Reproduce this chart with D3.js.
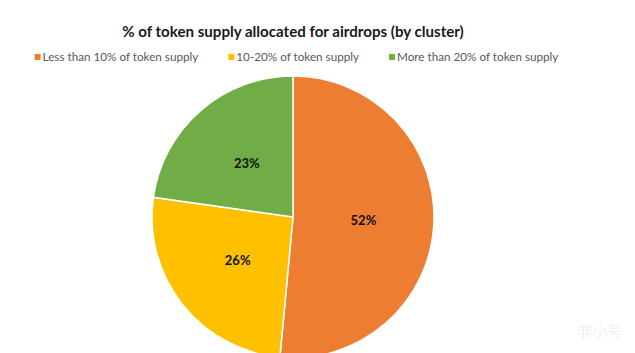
<!DOCTYPE html>
<html>
<head>
<meta charset="utf-8">
<script src="https://cdn.jsdelivr.net/npm/d3@7"></script>
<style>
  body { margin: 0; background: #fff; }
</style>
</head>
<body>
<div id="chart"></div>
<script>
// data
const categories = ["Less than 10% of token supply", "10-20% of token supply", "More than 20% of token supply"]
const shares = [52, 26, 23]
const sliceLabels = ["52%", "26%", "23%"]
const colors = ["#ED7D31", "#FFC000", "#70AD47"]
const title = "% of token supply allocated for airdrops (by cluster)"

function c1() {
    const width = 635
    const height = 353
    const cx = 293, cy = 217, radius = 141

    let svg = d3.select("#chart")
        .append("svg")
        .attr("width", width)
        .attr("height", height)

    svg.append("rect")
        .attr("width", "100%")
        .attr("height", "100%")
        .attr("fill", "#fff")

    //title
    svg.append("text")
        .attr("x", cx)
        .attr("y", 36.5)
        .attr("text-anchor", "middle")
        .attr("font-family", "Lato, sans-serif")
        .attr("font-weight", 700)
        .attr("font-size", "15.1px")
        .attr("fill", "#1a1a1a")
        .text(title)

    let colorScale = d3.scaleOrdinal().domain(categories).range(colors)

    //pie
    let pie = d3.pie().sort(null).value(function(d, i) {return shares[i]})
    let arc = d3.arc().innerRadius(0).outerRadius(radius)
    let labelArc = d3.arc().innerRadius(0).outerRadius(radius)

    let g = svg.append("g").attr("transform", `translate(${cx}, ${cy})`)
    let slices = g.selectAll("path")
        .data(pie(categories))
        .enter()

    slices.append("path")
        .attr("d", arc)
        .attr("fill", function(d) {return colorScale(d.data)})
        .attr("stroke", "#fff")
        .attr("stroke-width", 1.5)

    slices.append("text")
        .attr("transform", function(d) {return `translate(${labelArc.centroid(d)})`})
        .attr("dy", "0.35em")
        .attr("text-anchor", "middle")
        .attr("font-family", "Lato, sans-serif")
        .attr("font-weight", 700)
        .attr("font-size", "13px")
        .attr("fill", "#111")
        .text(function(d, i) {return sliceLabels[i]})

    //legend, laid out by measured text width
    let legend = svg.append("g").attr("class", "legend")
    let items = legend.selectAll("g")
        .data(categories)
        .enter()
        .append("g")

    items.append("rect")
        .attr("width", 6)
        .attr("height", 6)
        .attr("y", 54)
        .attr("fill", function(d) {return colorScale(d)})

    items.append("text")
        .attr("x", 8)
        .attr("y", 61)
        .attr("font-family", "Lato, sans-serif")
        .attr("font-size", "11.7px")
        .attr("fill", "#595959")
        .text(function(d) {return d})

    let x = 0
    let offsets = []
    items.each(function() {
        offsets.push(x)
        x += this.getBBox().width + 30
    })
    let total = x - 30
    let start = 296.5 - total / 2
    items.attr("transform", function(d, i) {return `translate(${start + offsets[i]}, 0)`})

    //faint watermark
    svg.append("text")
        .attr("x", 600)
        .attr("y", 337)
        .attr("text-anchor", "middle")
        .attr("font-family", "'Noto Sans CJK SC', sans-serif")
        .attr("font-size", "15px")
        .attr("fill", "#f0f0f0")
        .text("非小号")
}

c1()
</script>
</body>
</html>
